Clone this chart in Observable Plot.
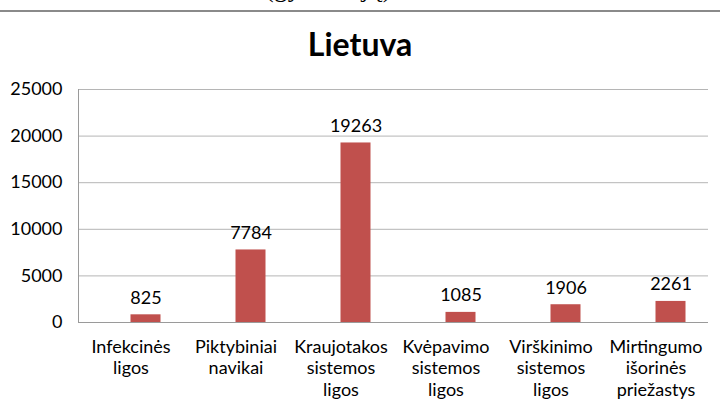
<!DOCTYPE html>
<html><head><meta charset="utf-8">
<script src="https://cdn.jsdelivr.net/npm/d3@7"></script>
<script src="https://cdn.jsdelivr.net/npm/@observablehq/plot@0.6"></script>
<style>
body{margin:0;background:#fff;width:720px;height:410px;overflow:hidden;font-family:Lato,sans-serif;}
#cut{position:relative;height:10px;overflow:hidden;}
#cut span{position:absolute;left:265px;top:-24px;line-height:26px;font-family:"Liberation Serif",serif;font-size:26px;letter-spacing:0.5px;color:#000;}
#rule{height:2px;background:#8a8a8a;}
#title{height:58px;line-height:64px;text-align:center;font-weight:bold;font-size:32px;color:#000;}
</style></head><body>
<div id="cut"><span>(gyventojų)</span></div>
<div id="rule"></div>
<div id="title">Lietuva</div>
<div id="chart"></div>
<script>
const categories = ["Infekcinės\nligos","Piktybiniai\nnavikai","Kraujotakos\nsistemos\nligos","Kvėpavimo\nsistemos\nligos","Virškinimo\nsistemos\nligos","Mirtingumo\nišorinės\npriežastys"];
const values = [825, 7784, 19263, 1085, 1906, 2261];
const yTicks = [0, 5000, 10000, 15000, 20000, 25000];
const data = categories.map((c, i) => ({c, v: values[i]}));

const chart = Plot.plot({
  width: 720, height: 340,
  marginTop: 19, marginBottom: 88, marginLeft: 78, marginRight: 12,
  style: {fontFamily: "Lato, sans-serif", fontSize: "18px", color: "#000", background: "#fff"},
  x: {domain: categories, padding: 0, label: null},
  y: {domain: [0, 25000], label: null},
  marks: [
    Plot.gridY(yTicks, {stroke: "#b5b5b5", strokeOpacity: 1}),
    Plot.axisY(yTicks, {tickSize: 0, tickPadding: 16, fontSize: 18, tickFormat: d => String(d), label: null}),
    Plot.axisX({tickSize: 0, tickPadding: 15, fontSize: 18, lineHeight: 1.2, label: null}),
    Plot.barY(data, {x: "c", y: "v", fill: "#c0504d", insetLeft: 52.5, insetRight: 22.5}),
    Plot.ruleY([0], {stroke: "#9a9a9a"}),
    Plot.frame({anchor: "left", stroke: "#9a9a9a"}),
    Plot.text(data, {x: "c", y: "v", text: d => String(d.v), dx: 15, dy: -17, fontSize: 18, fill: "#000"})
  ]
});
document.getElementById("chart").appendChild(chart);
</script>
</body></html>
